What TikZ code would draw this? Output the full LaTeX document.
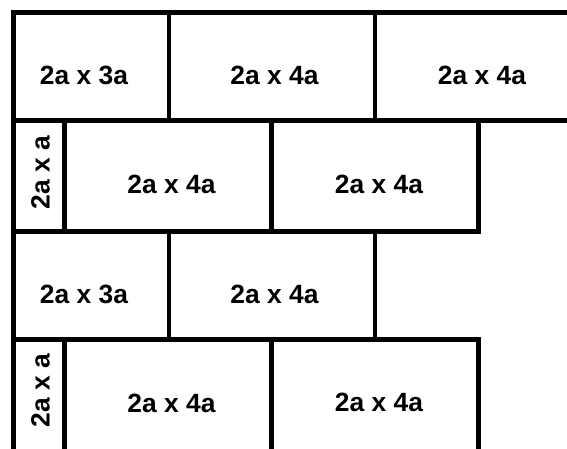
\documentclass[tikz,border=0pt]{standalone}
\usepackage{fontspec}
\setmainfont{Liberation Sans}
\usepackage{tikz}
\usetikzlibrary{positioning}

\begin{document}
\begin{tikzpicture}[x=1pt,y=-1pt]
    \tikzstyle{every node} = [font=\bfseries\fontsize{26.4}{30}\selectfont, inner sep=0pt]
    \tikzstyle{joint} = [line width=4.8pt, line cap=rect, line join=miter]
    \useasboundingbox (0,0) rectangle (567,448);
    \clip (0,0) rectangle (567,448);
    % outer edge and row lines
    \draw[joint] (600,12.5) -- (13.5,12.5) -- (13.5,470);
    \draw[joint] (13.5,120.8) -- (600,120.8);
    \draw[joint] (13.5,231.7) -- (478.3,231.7) -- (478.3,120.8);
    \draw[joint] (13.5,339.7) -- (478.3,339.7) -- (478.3,470);
    % joints inside the rows
    \draw[joint] (169,12.5) -- (169,120.8);
    \draw[joint] (375,12.5) -- (375,120.8);
    \draw[joint] (64.7,120.8) -- (64.7,231.7);
    \draw[joint] (271.3,120.8) -- (271.3,231.7);
    \draw[joint] (169,231.7) -- (169,339.7);
    \draw[joint] (375,231.7) -- (375,339.7);
    \draw[joint] (64.7,339.7) -- (64.7,470);
    \draw[joint] (271.3,339.7) -- (271.3,470);
    % place labels
    \node (topShort) at (84,75) {2a x 3a};
    \node (topMid) at (274.5,75) {2a x 4a};
    \node (topRight) at (482,75) {2a x 4a};
    \node[rotate=90] (secondSmall) at (40.5,172.5) {2a x a};
    \node (secondLeft) at (171.5,184.5) {2a x 4a};
    \node (secondRight) at (379,184.5) {2a x 4a};
    \node (thirdShort) at (84,294) {2a x 3a};
    \node (thirdMid) at (274.5,294) {2a x 4a};
    \node[rotate=90] (fourthSmall) at (40.5,390.5) {2a x a};
    \node (fourthLeft) at (171.5,403.5) {2a x 4a};
    \node (fourthRight) at (379,402.5) {2a x 4a};
\end{tikzpicture}
\end{document}
